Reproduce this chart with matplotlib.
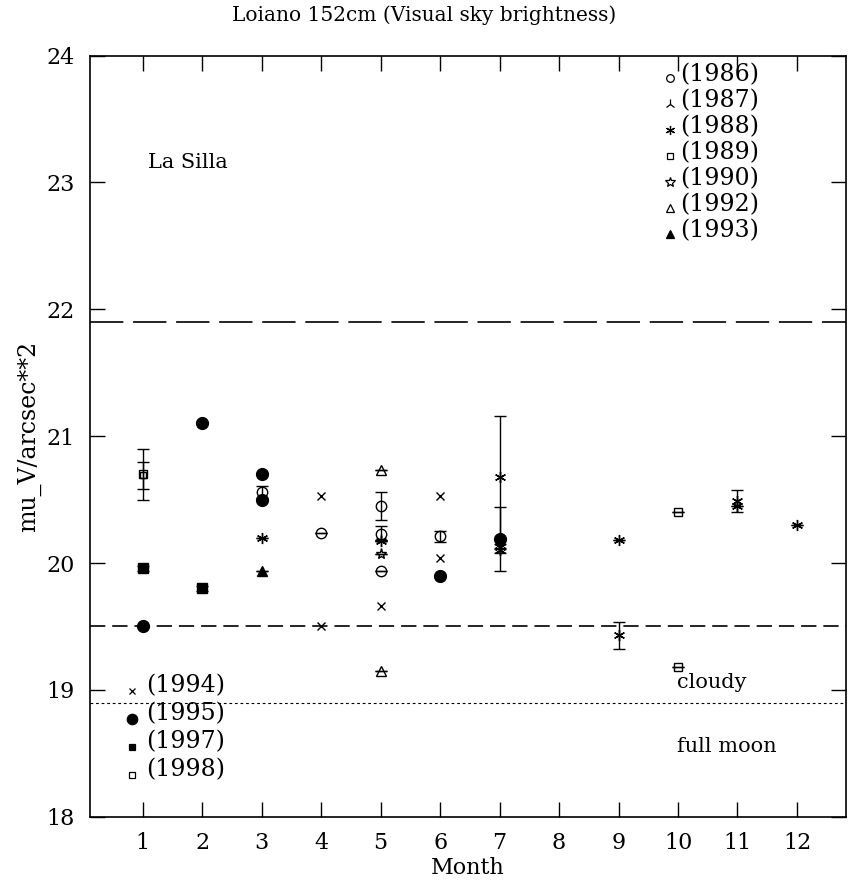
import matplotlib
matplotlib.use("Agg")
import matplotlib.pyplot as plt

plt.rcParams['font.family'] = ['DejaVu Serif']
plt.rcParams['lines.scale_dashes'] = False

# sky brightness per year: month, mu_V, error (0 -> cap drawn through the point)
years = ['1986', '1987', '1988', '1989', '1990', '1992', '1993',
         '1994', '1995', '1997', '1998']

m1986 = [3, 4, 5, 5, 5, 6]
v1986 = [20.56, 20.24, 20.45, 20.23, 19.94, 20.21]
e1986 = [0.05, 0.0, 0.11, 0.06, 0.0, 0.045]

m1987 = [5]
v1987 = [20.18]
e1987 = [0.0]

m1988 = [3, 5, 7, 7, 7, 9, 9, 11, 11, 12]
v1988 = [20.20, 20.17, 20.68, 20.13, 20.10, 20.18, 19.43, 20.49, 20.45, 20.30]
e1988 = [0.0, 0.0, 0.48, 0.02, 0.02, 0.0, 0.105, 0.085, 0.0, 0.0]

m1989 = [1, 10, 10]
v1989 = [20.70, 20.40, 19.18]
e1989 = [0.20, 0.0, 0.0]

m1990 = [5]
v1990 = [20.07]
e1990 = [0.0]

m1992 = [5, 5]
v1992 = [20.73, 19.15]
e1992 = [0.0, 0.0]

m1993 = [3]
v1993 = [19.94]
e1993 = [0.0]

m1994 = [4, 4, 5, 6, 6]
v1994 = [20.53, 19.50, 19.66, 20.53, 20.04]

m1995 = [1, 2, 3, 3, 6, 7]
v1995 = [19.50, 21.10, 20.70, 20.50, 19.90, 20.19]
e1995 = [0.0, 0.0, 0.0, 0.0, 0.0, 0.25]

m1997 = [1, 2]
v1997 = [19.96, 19.80]
e1997 = [0.02, 0.02]

m1998 = [1]
v1998 = [20.69]
e1998 = [0.11]

la_silla = 21.9
cloudy = 19.5
full_moon = 18.9

asterisk = (6, 2, 0)

fig = plt.figure(figsize=(8.48, 8.82), dpi=100)
ax = fig.add_axes([0.106, 0.074, 0.892, 0.863])


def pts(m, v, e, marker, ms, filled):
    fc = 'black' if filled else 'none'
    if e is not None:
        ax.errorbar(m, v, yerr=e, fmt='none', ecolor='black', elinewidth=1.0,
                    capsize=4.5, capthick=1.0, zorder=2)
    ax.plot(m, v, ls='none', marker=marker, ms=ms, mec='black', mfc=fc,
            mew=1.0, zorder=3)


pts(m1986, v1986, e1986, 'o', 7.5, False)
pts(m1987, v1987, e1987, '2', 8, False)
pts(m1988, v1988, e1988, asterisk, 8, False)
pts(m1989, v1989, e1989, 's', 6, False)
pts(m1990, v1990, e1990, '*', 8, False)
pts(m1992, v1992, e1992, '^', 6.5, False)
pts(m1993, v1993, e1993, '^', 6.5, True)
pts(m1994, v1994, None, 'x', 6, False)
pts(m1995, v1995, e1995, 'o', 8.5, True)
pts(m1997, v1997, e1997, 's', 6.5, True)
pts(m1998, v1998, e1998, 's', 5, False)

ax.axhline(la_silla, color='black', lw=1.2, dashes=(24, 7))
ax.axhline(cloudy, color='black', lw=1.2, dashes=(11, 5))
ax.axhline(full_moon, color='black', lw=0.8, dashes=(2, 2))

# legends drawn as in the original plot
legend_hi = [('1986', 'o', False, 5.5), ('1987', '2', False, 7.5),
             ('1988', asterisk, False, 6.5), ('1989', 's', False, 5),
             ('1990', '*', False, 7), ('1992', '^', False, 5.5),
             ('1993', '^', True, 5.5)]
for i, (yr, mk, filled, ms) in enumerate(legend_hi):
    y = 23.85 - 0.205 * i
    ax.plot([9.87], [y - 0.03], ls='none', marker=mk, ms=ms, mec='black',
            mfc='black' if filled else 'none', mew=0.9)
    ax.text(10.04, y, '(' + yr + ')', fontsize=17, va='center', ha='left')

legend_lo = [('1994', 'x', False, 4.5), ('1995', 'o', True, 7.5),
             ('1997', 's', True, 5), ('1998', 's', False, 5)]
for i, (yr, mk, filled, ms) in enumerate(legend_lo):
    y = 19.03 - 0.22 * i
    ax.plot([0.82], [y - 0.04], ls='none', marker=mk, ms=ms, mec='black',
            mfc='black' if filled else 'none', mew=0.9)
    ax.text(1.05, y, '(' + yr + ')', fontsize=17, va='center', ha='left')

ax.text(1.08, 23.16, 'La Silla', fontsize=15, va='center', ha='left')
ax.text(9.99, 19.06, 'cloudy', fontsize=15, va='center', ha='left')
ax.text(9.99, 18.55, 'full moon', fontsize=15, va='center', ha='left')

ax.set_xlim(0.11, 12.83)
ax.set_ylim(18, 24)
ax.set_xticks(range(1, 13))
ax.set_yticks([18, 19, 20, 21, 22, 23, 24])
ax.tick_params(direction='in', length=11, width=1.0, top=True, right=True,
               labelsize=16, pad=11)
for s in ax.spines.values():
    s.set_linewidth(1.2)

ax.set_xlabel('Month', fontsize=16, labelpad=2)
ax.set_ylabel('mu_V/arcsec**2', fontsize=17, labelpad=4)
fig.text(0.5, 0.983, 'Loiano 152cm (Visual sky brightness)', fontsize=14.5,
         ha='center', va='center')

fig.savefig('out.png', dpi=100)
